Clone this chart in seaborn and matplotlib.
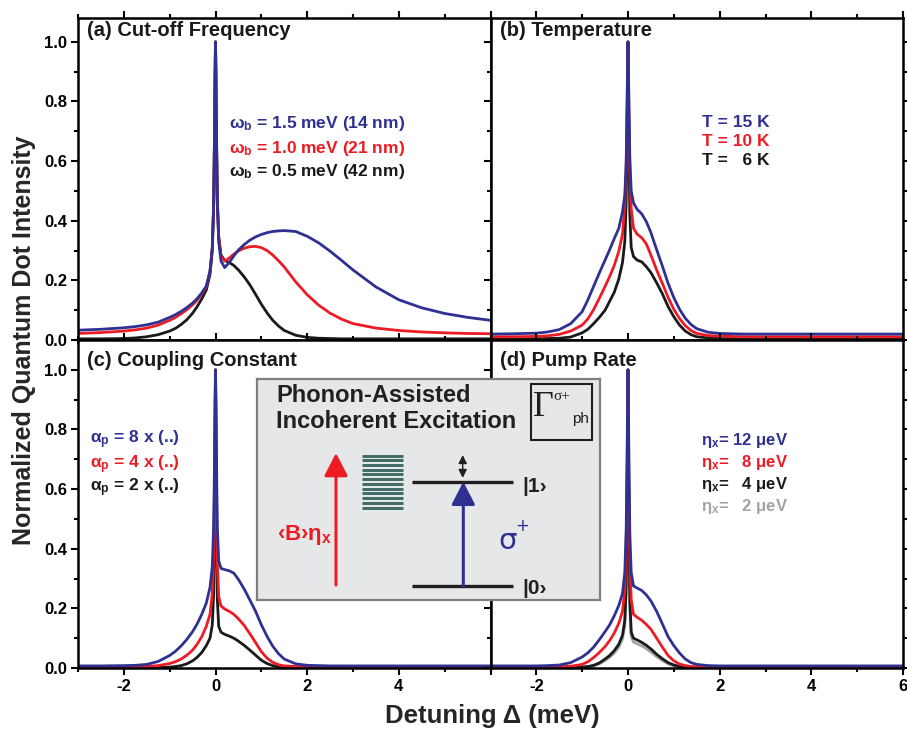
import numpy as np
import pandas as pd
import matplotlib
matplotlib.use("Agg")
import matplotlib.pyplot as plt
import seaborn as sns
from matplotlib.patches import Rectangle
from matplotlib.ticker import MultipleLocator, FixedLocator, FormatStrFormatter

# ---------------- data ----------------
detuning = [-3, -2.5, -2, -1.75, -1.5, -1.25, -1, -0.875, -0.75, -0.625,
            -0.5, -0.4, -0.3, -0.2, -0.12, -0.07, -0.04, -0.02, -0.01, 0,
            0.01, 0.02, 0.04, 0.07, 0.12, 0.2, 0.3, 0.4, 0.5, 0.625,
            0.75, 0.875, 1.0, 1.125, 1.25, 1.375, 1.5, 1.75, 2, 2.25,
            2.5, 2.75, 3, 3.5, 4, 4.5, 5, 5.5, 6]

# (a) cut-off frequency
a_blue = [0.033, 0.036, 0.041, 0.045, 0.051, 0.060, 0.076, 0.085, 0.096, 0.109,
          0.124, 0.139, 0.158, 0.181, 0.232, 0.31, 0.457, 0.707, 0.885, 1.0,
          0.885, 0.70, 0.46, 0.33, 0.265, 0.243, 0.26, 0.282, 0.302, 0.32,
          0.335, 0.346, 0.354, 0.36, 0.364, 0.366, 0.367, 0.364, 0.348, 0.326,
          0.298, 0.267, 0.235, 0.178, 0.135, 0.108, 0.089, 0.076, 0.066]
a_red = [0.022, 0.025, 0.030, 0.034, 0.040, 0.050, 0.066, 0.076, 0.088, 0.102,
         0.118, 0.134, 0.154, 0.178, 0.23, 0.31, 0.457, 0.707, 0.885, 1.0,
         0.885, 0.705, 0.47, 0.345, 0.28, 0.265, 0.275, 0.288, 0.299, 0.308,
         0.313, 0.314, 0.31, 0.30, 0.285, 0.266, 0.245, 0.195, 0.152, 0.117,
         0.09, 0.07, 0.055, 0.04, 0.032, 0.027, 0.024, 0.022, 0.021]
a_black = [0.004, 0.004, 0.005, 0.007, 0.011, 0.018, 0.03, 0.039, 0.052, 0.068,
           0.09, 0.112, 0.138, 0.168, 0.22, 0.30, 0.45, 0.70, 0.88, 1.0,
           0.885, 0.705, 0.47, 0.345, 0.285, 0.267, 0.26, 0.25, 0.235, 0.212,
           0.185, 0.153, 0.12, 0.091, 0.066, 0.047, 0.032, 0.016, 0.009, 0.006,
           0.005, 0.004, 0.004, 0.004, 0.004, 0.004, 0.004, 0.004, 0.004]

# (b) temperature
b_blue = [0.02, 0.021, 0.023, 0.027, 0.035, 0.055, 0.095, 0.135, 0.18, 0.225,
          0.268, 0.303, 0.34, 0.375, 0.43, 0.485, 0.594, 0.78, 0.913, 1.0,
          0.915, 0.79, 0.61, 0.50, 0.46, 0.438, 0.423, 0.397, 0.36, 0.303,
          0.248, 0.19, 0.142, 0.103, 0.073, 0.052, 0.038, 0.026, 0.022, 0.021,
          0.02, 0.02, 0.02, 0.02, 0.02, 0.02, 0.02, 0.02, 0.02]
b_red = [0.011, 0.011, 0.012, 0.014, 0.019, 0.03, 0.05, 0.071, 0.102, 0.14,
         0.18, 0.213, 0.25, 0.298, 0.355, 0.454, 0.573, 0.77, 0.91, 1.0,
         0.90, 0.76, 0.56, 0.44, 0.375, 0.355, 0.343, 0.322, 0.285, 0.235,
         0.19, 0.143, 0.103, 0.072, 0.048, 0.032, 0.022, 0.015, 0.013, 0.012,
         0.011, 0.011, 0.011, 0.011, 0.011, 0.011, 0.011, 0.011, 0.011]
b_black = [0.005, 0.005, 0.005, 0.005, 0.006, 0.01, 0.024, 0.036, 0.055, 0.076,
           0.10, 0.13, 0.16, 0.205, 0.26, 0.33, 0.46, 0.70, 0.88, 1.0,
           0.85, 0.65, 0.42, 0.31, 0.28, 0.268, 0.262, 0.246, 0.226, 0.192,
           0.155, 0.112, 0.078, 0.05, 0.03, 0.018, 0.011, 0.007, 0.005, 0.005,
           0.005, 0.005, 0.005, 0.005, 0.005, 0.005, 0.005, 0.005, 0.005]

# (c) coupling constant
c_blue = [0.007, 0.007, 0.008, 0.009, 0.012, 0.022, 0.042, 0.056, 0.074, 0.096,
          0.122, 0.148, 0.18, 0.218, 0.27, 0.34, 0.48, 0.71, 0.89, 1.0,
          0.89, 0.72, 0.47, 0.36, 0.334, 0.33, 0.326, 0.318, 0.297, 0.265,
          0.228, 0.19, 0.145, 0.106, 0.073, 0.048, 0.03, 0.014, 0.009, 0.008,
          0.007, 0.007, 0.007, 0.007, 0.007, 0.007, 0.007, 0.007, 0.007]
c_red = [0.004, 0.004, 0.004, 0.004, 0.005, 0.008, 0.015, 0.021, 0.03, 0.043,
         0.06, 0.08, 0.105, 0.14, 0.18, 0.25, 0.38, 0.62, 0.85, 1.0,
         0.84, 0.60, 0.35, 0.24, 0.208, 0.198, 0.19, 0.18, 0.165, 0.143,
         0.115, 0.085, 0.055, 0.033, 0.019, 0.011, 0.007, 0.005, 0.004, 0.004,
         0.004, 0.004, 0.004, 0.004, 0.004, 0.004, 0.004, 0.004, 0.004]
c_black = [0.002, 0.002, 0.002, 0.002, 0.002, 0.002, 0.003, 0.005, 0.008, 0.014,
           0.024, 0.036, 0.052, 0.075, 0.10, 0.145, 0.25, 0.50, 0.78, 1.0,
           0.78, 0.48, 0.23, 0.14, 0.12, 0.113, 0.107, 0.10, 0.09, 0.076,
           0.06, 0.043, 0.026, 0.015, 0.008, 0.004, 0.002, 0.002, 0.002, 0.002,
           0.002, 0.002, 0.002, 0.002, 0.002, 0.002, 0.002, 0.002, 0.002]

# (d) pump rate
d_blue = [0.007, 0.007, 0.007, 0.008, 0.01, 0.018, 0.037, 0.051, 0.07, 0.095,
          0.122, 0.145, 0.175, 0.21, 0.25, 0.32, 0.46, 0.69, 0.88, 1.0,
          0.88, 0.69, 0.45, 0.32, 0.275, 0.268, 0.26, 0.245, 0.225, 0.19,
          0.148, 0.105, 0.075, 0.05, 0.03, 0.018, 0.012, 0.008, 0.007, 0.007,
          0.007, 0.007, 0.007, 0.007, 0.007, 0.007, 0.007, 0.007, 0.007]
d_red = [0.004, 0.004, 0.004, 0.004, 0.004, 0.006, 0.012, 0.021, 0.035, 0.052,
         0.072, 0.092, 0.117, 0.15, 0.19, 0.26, 0.41, 0.65, 0.86, 1.0,
         0.85, 0.62, 0.36, 0.23, 0.18, 0.17, 0.16, 0.146, 0.13, 0.10,
         0.07, 0.042, 0.024, 0.013, 0.008, 0.005, 0.004, 0.004, 0.004, 0.004,
         0.004, 0.004, 0.004, 0.004, 0.004, 0.004, 0.004, 0.004, 0.004]
d_black = [0.003, 0.003, 0.003, 0.003, 0.003, 0.003, 0.003, 0.005, 0.009, 0.017,
           0.03, 0.042, 0.058, 0.08, 0.11, 0.16, 0.28, 0.55, 0.80, 1.0,
           0.78, 0.50, 0.23, 0.12, 0.10, 0.094, 0.086, 0.076, 0.064, 0.046,
           0.031, 0.018, 0.01, 0.005, 0.003, 0.003, 0.003, 0.003, 0.003, 0.003,
           0.003, 0.003, 0.003, 0.003, 0.003, 0.003, 0.003, 0.003, 0.003]
d_gray = [0.002, 0.002, 0.002, 0.002, 0.002, 0.002, 0.002, 0.004, 0.007, 0.014,
          0.025, 0.036, 0.05, 0.07, 0.098, 0.14, 0.25, 0.50, 0.78, 1.0,
          0.76, 0.46, 0.20, 0.105, 0.087, 0.081, 0.074, 0.065, 0.054, 0.038,
          0.025, 0.014, 0.007, 0.004, 0.002, 0.002, 0.002, 0.002, 0.002, 0.002,
          0.002, 0.002, 0.002, 0.002, 0.002, 0.002, 0.002, 0.002, 0.002]

panel_titles = ["(a) Cut-off Frequency", "(b) Temperature",
                "(c) Coupling Constant", "(d) Pump Rate"]
labels_a = ["ω$_\\mathbf{b}$ = 1.5 meV (14 nm)", "ω$_\\mathbf{b}$ = 1.0 meV (21 nm)",
            "ω$_\\mathbf{b}$ = 0.5 meV (42 nm)"]
labels_b = ["T = 15 K", "T = 10 K", "T =   6 K"]
labels_c = ["α$_\\mathbf{p}$ = 8 x (..)", "α$_\\mathbf{p}$ = 4 x (..)", "α$_\\mathbf{p}$ = 2 x (..)"]
labels_d = ["η$_\\mathrm{x}$= 12 μeV", "η$_\\mathrm{x}$=   8 μeV",
            "η$_\\mathrm{x}$=   4 μeV", "η$_\\mathrm{x}$=   2 μeV"]
x_tick_values = [-2, 0, 2, 4, 6]
y_tick_values = [0.0, 0.2, 0.4, 0.6, 0.8, 1.0]

# ---------------- style ----------------
sns.set_theme(style="ticks")
plt.rcParams['font.family'] = ['Liberation Sans', 'DejaVu Sans']
plt.rcParams['font.weight'] = 'bold'
plt.rcParams['axes.unicode_minus'] = False
plt.rcParams['mathtext.fontset'] = 'custom'
plt.rcParams['mathtext.rm'] = 'Liberation Sans'
plt.rcParams['mathtext.it'] = 'Liberation Sans:italic'
plt.rcParams['mathtext.bf'] = 'Liberation Sans:bold'

BLUE = '#2E3192'
RED = '#ED1C24'
BLACK = '#1A1A1A'
GRAY = '#A3A3A3'

fig = plt.figure(figsize=(9.07, 7.31), dpi=100)
gs = fig.add_gridspec(2, 2, left=78 / 907, right=903 / 907, top=1 - 18 / 731,
                      bottom=1 - 668 / 731, wspace=0, hspace=0,
                      height_ratios=[1.08, 1.10])
ax_a = fig.add_subplot(gs[0, 0])
ax_b = fig.add_subplot(gs[0, 1])
ax_c = fig.add_subplot(gs[1, 0])
ax_d = fig.add_subplot(gs[1, 1])

panels = [
    (ax_a, [("black", a_black, BLACK), ("red", a_red, RED), ("blue", a_blue, BLUE)],
     panel_titles[0], labels_a, [BLUE, RED, BLACK], 0.365, [0.671, 0.596, 0.522], 1.08, 12.5),
    (ax_b, [("black", b_black, BLACK), ("red", b_red, RED), ("blue", b_blue, BLUE)],
     panel_titles[1], labels_b, [BLUE, RED, BLACK], 0.512, [0.677, 0.618, 0.559], 1.08, 12.5),
    (ax_c, [("black", c_black, BLACK), ("red", c_red, RED), ("blue", c_blue, BLUE)],
     panel_titles[2], labels_c, [BLUE, RED, BLACK], 0.029, [0.695, 0.621, 0.549], 1.10, 12.5),
    (ax_d, [("gray", d_gray, GRAY), ("black", d_black, BLACK), ("red", d_red, RED),
            ("blue", d_blue, BLUE)],
     panel_titles[3], labels_d, [BLUE, RED, BLACK, GRAY], 0.51,
     [0.695, 0.627, 0.558, 0.491], 1.10, 12.0),
]

for ax, series, title, labels, lcolors, lx, lys, ytop, lsize in panels:
    names = [s[0] for s in series]
    df = pd.DataFrame({
        "detuning": np.tile(detuning, len(series)),
        "intensity": np.concatenate([s[1] for s in series]),
        "series": np.repeat(names, len(detuning)),
    })
    sns.lineplot(data=df, x="detuning", y="intensity", hue="series",
                 hue_order=names, palette={s[0]: s[2] for s in series},
                 linewidth=2.0, legend=False, ax=ax, estimator=None, sort=False,
                 solid_joinstyle='round', solid_capstyle='round')
    ax.set_xlabel("")
    ax.set_ylabel("")
    ax.set_xlim(-3, 6)
    ax.set_ylim(0, ytop)
    ax.xaxis.set_major_locator(FixedLocator(x_tick_values))
    ax.xaxis.set_minor_locator(MultipleLocator(1))
    ax.yaxis.set_major_locator(FixedLocator(y_tick_values))
    ax.yaxis.set_minor_locator(MultipleLocator(0.1))
    ax.yaxis.set_major_formatter(FormatStrFormatter('%.1f'))
    ax.tick_params(which='both', direction='out', top=True, right=True,
                   width=1.5, labelsize=12, colors='black', pad=3)
    ax.tick_params(which='major', length=5)
    ax.tick_params(which='minor', length=3)
    for sp in ax.spines.values():
        sp.set_linewidth(1.8)
        sp.set_color('black')
    ax.text(0.022, 0.96 if ytop == 1.08 else 0.939, title, transform=ax.transAxes,
            ha='left', va='center', fontsize=14.5, fontweight='bold', color='#1A1A1A')
    for lab, col, ly in zip(labels, lcolors, lys):
        ax.text(lx, ly, lab, transform=ax.transAxes, ha='left', va='center',
                fontsize=lsize, fontweight='bold', color=col)

for ax in (ax_a, ax_b):
    ax.tick_params(labelbottom=False)
for ax in (ax_b, ax_d):
    ax.tick_params(labelleft=False)
ax_c.set_xticks(x_tick_values)
ax_c.set_xticklabels(["-2", "0", "2", "4", ""])
for ax in (ax_a, ax_c, ax_d):
    for lab in ax.get_yticklabels() + ax.get_xticklabels():
        lab.set_fontweight('bold')

fig.text(0.026, 1 - 340 / 731, "Normalized Quantum Dot Intensity", rotation=90,
         ha='center', va='center', fontsize=18, fontweight='bold')
fig.text(492 / 907, 1 - 716 / 731, "Detuning Δ (meV)", ha='center', va='center',
         fontsize=18.5, fontweight='bold')

# ---------------- inset schematic ----------------
x0, x1, y0, y1 = 256.7, 600.0, 379.3, 600.0
ins = fig.add_axes([x0 / 907, 1 - y1 / 731, (x1 - x0) / 907, (y1 - y0) / 731], zorder=10)
ins.set_xlim(x0, x1)
ins.set_ylim(y1, y0)
ins.set_facecolor('#E6E7E8')
ins.set_xticks([])
ins.set_yticks([])
for sp in ins.spines.values():
    sp.set_color('#7F7F7F')
    sp.set_linewidth(1.6)

ins.text(276, 395, "Phonon-Assisted", ha='left', va='center', fontsize=17,
         fontweight='bold', color='#231F20')
ins.text(276, 421, "Incoherent Excitation", ha='left', va='center', fontsize=17,
         fontweight='bold', color='#231F20')
ins.add_patch(Rectangle((531, 383.5), 61, 56, fill=False, lw=1.5, ec='#231F20'))
ins.text(543, 407, "Γ", ha='center', va='center', fontsize=26, fontweight='normal',
         family=['Liberation Serif', 'DejaVu Serif'], color='#231F20')
ins.text(562, 396, "σ+", ha='center', va='center', fontsize=11, fontweight='normal',
         family=['Liberation Serif', 'DejaVu Serif'], color='#231F20')
ins.text(580, 419, "ph", ha='center', va='center', fontsize=11, fontweight='normal',
         color='#231F20')

# red arrow
ins.annotate("", xy=(336, 453), xytext=(336, 585),
             arrowprops=dict(arrowstyle='-|>,head_length=1.4,head_width=0.72',
                             color=RED, lw=2.2, mutation_scale=10, shrinkA=0, shrinkB=0))
ins.text(305, 535, "‹B›$\\mathrm{\\eta}_\\mathbf{x}$", ha='center', va='center',
         fontsize=16, fontweight='bold', color=RED)
# phonon bath
ins.hlines(np.linspace(455.5, 507.5, 12), 362, 403, color='#3E6B64', lw=2.1)
# levels
ins.hlines([481.7, 585.7], 412, 513, color='#231F20', lw=2.4)
ins.text(522, 486, "|1›", ha='left', va='center', fontsize=15, fontweight='bold',
         color='#231F20')
ins.text(522, 589, "|0›", ha='left', va='center', fontsize=15, fontweight='bold',
         color='#231F20')
# blue arrow
ins.annotate("", xy=(463.3, 481.7), xytext=(463.3, 585.7),
             arrowprops=dict(arrowstyle='-|>,head_length=1.4,head_width=0.72',
                             color=BLUE, lw=2.2, mutation_scale=10, shrinkA=0, shrinkB=0))
ins.annotate("", xy=(462.7, 455), xytext=(462.7, 478),
             arrowprops=dict(arrowstyle='<|-|>,head_length=0.5,head_width=0.25',
                             color='#231F20', lw=1.0, mutation_scale=10, shrinkA=0, shrinkB=0))
ins.text(508, 541, "σ", ha='center', va='center', fontsize=21, fontweight='normal',
         color=BLUE, family=['DejaVu Sans'])
ins.text(522, 526, "+", ha='center', va='center', fontsize=12, fontweight='normal',
         color=BLUE, family=['DejaVu Sans'])

fig.savefig("out.png", dpi=100)
